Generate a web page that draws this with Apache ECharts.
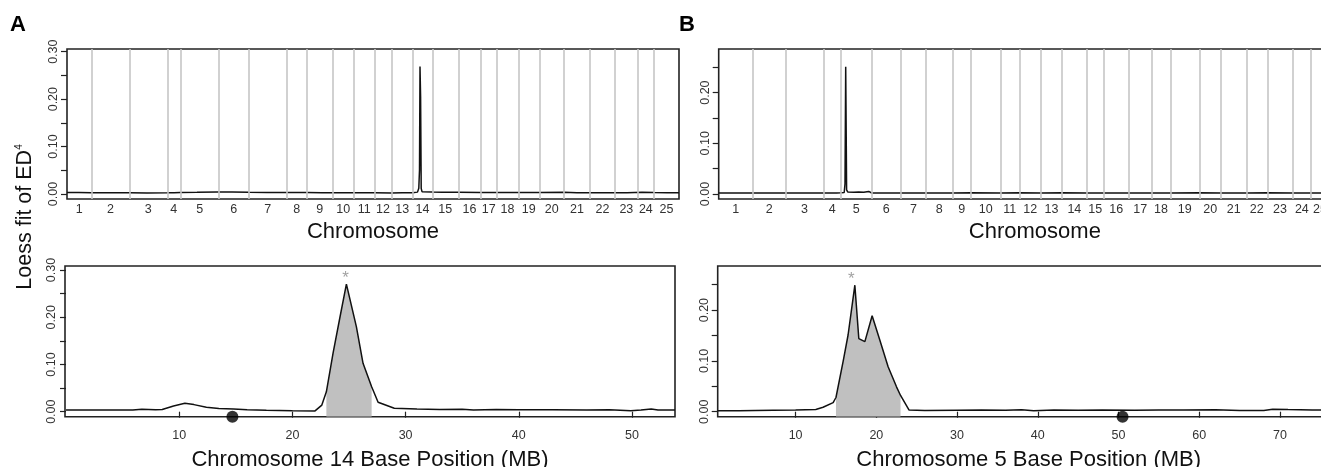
<!DOCTYPE html>
<html>
<head>
<meta charset="utf-8">
<script src="https://cdn.jsdelivr.net/npm/echarts@6/dist/echarts.min.js"></script>
<style>
html,body{margin:0;padding:0;background:#fff;}
#chart{width:1321px;height:467px;}
</style>
</head>
<body>
<div id="chart"></div>
<script>
// ---------------- DATA ----------------
const chromosomes = ['1','2','3','4','5','6','7','8','9','10','11','12','13','14','15','16','17','18','19','20','21','22','23','24','25'];
// relative span (marker-index units) of each chromosome on the genome-wide axis
const chrSpanA = [24.7,37.6,38,13,38.7,29.7,38,20.3,25.3,21.7,20.3,17.4,21,19.6,26,22.4,16,21.6,21,24.7,26,25,22.7,16.3,25];
const chrSpanB = [34,33,37.6,17.7,30.7,29.3,25,26.3,18.7,29.3,19,21.7,21,24.7,17,25,23,18.6,29,21.7,25.3,21,25.4,18.3,18];

// genome-wide loess fit of ED^4, [position, value]
const genomeA = [[0,0.003],[12,0.003],[24.7,0.0028],[45,0.0025],[62.3,0.0026],[80,0.0024],[100.3,0.0025],[107,0.0028],[113.3,0.003],[130,0.0035],[150,0.0045],[165,0.0042],[181.7,0.0035],[200,0.0032],[219.7,0.0033],[240,0.0032],[255,0.0028],[265.3,0.0028],[287,0.0025],[307.3,0.0025],[324.7,0.0022],[335,0.0025],[345.7,0.0028],[350.5,0.004],[351.8,0.012],[352.5,0.05],[353.0,0.269],[353.6,0.205],[354.2,0.012],[355,0.005],[365.3,0.004],[375,0.0035],[391.3,0.0035],[413.7,0.0032],[429.7,0.003],[451.3,0.003],[472.3,0.003],[497,0.0035],[510,0.0028],[523,0.0028],[548,0.0025],[560,0.0028],[575,0.0035],[587,0.003],[600,0.0028],[612,0.0028]];
const genomeB = [[0,0.002],[34,0.002],[67,0.0018],[104.6,0.002],[118,0.002],[122.3,0.0022],[125.5,0.003],[126.3,0.02],[127,0.251],[127.5,0.12],[127.9,0.008],[129,0.004],[135,0.0035],[140,0.004],[145,0.0032],[150,0.005],[151.5,0.004],[153,0.002],[182.3,0.002],[207.3,0.0018],[233.6,0.002],[252.3,0.0022],[281.6,0.002],[300.6,0.0022],[322.3,0.002],[343.3,0.0022],[368,0.002],[385,0.0018],[410,0.002],[433,0.002],[451.6,0.002],[480.6,0.0022],[502.3,0.002],[527.6,0.002],[548.6,0.0022],[574,0.002],[592.3,0.002],[610.3,0.002]];

// chromosome-level loess fit, [MB, value]
const chr14 = [[0,0.0036],[2,0.0034],[4,0.0036],[5.9,0.0035],[6.7,0.005],[7.9,0.004],[8.5,0.0045],[9.5,0.012],[10.5,0.0178],[11.3,0.015],[12.4,0.0093],[13.5,0.007],[14.8,0.0058],[16,0.004],[17.7,0.003],[20,0.002],[22,0.0016],[22.6,0.014],[23,0.042],[23.6,0.125],[24.2,0.2],[24.77,0.27],[25.65,0.18],[26.24,0.1025],[27,0.053],[27.57,0.02],[29,0.0072],[31,0.0055],[33,0.0045],[35,0.005],[36,0.0035],[38,0.0045],[40,0.004],[43,0.0042],[46,0.0038],[48,0.0042],[49.9,0.002],[50.8,0.0035],[51.7,0.0055],[52.3,0.0038],[53.8,0.0036]];
const chr5 = [[0.35,0.002],[3,0.002],[5,0.0025],[7.2,0.003],[10,0.0035],[12.5,0.0045],[13.4,0.0087],[14.65,0.018],[15,0.028],[15.9,0.1],[16.5,0.151],[17.34,0.249],[17.83,0.144],[18.58,0.138],[19.48,0.189],[20.43,0.141],[21.46,0.0886],[22.5,0.049],[23,0.032],[24.06,0.0033],[26,0.0025],[30,0.003],[33,0.0035],[36,0.003],[38,0.0038],[39.5,0.002],[42,0.0035],[45,0.003],[48,0.0035],[52,0.003],[55,0.0035],[58,0.0032],[62,0.004],[65,0.0025],[68,0.0025],[69.1,0.005],[71,0.0042],[74,0.0035],[77.4,0.0035]];

const shadeA = [23, 27];      // highlighted interval (MB)
const shadeB = [15, 23];
const starA = [24.7, 0.27];   // asterisk above peak
const starB = [16.9, 0.249];
const dotA = 14.7;            // black marker on axis (MB)
const dotB = 50.5;

const yTicks30 = [0,0.05,0.10,0.15,0.20,0.25,0.30];
const yLabels30 = [0,0.10,0.20,0.30];
const yTicks25 = [0,0.05,0.10,0.15,0.20,0.25];
const yLabels25 = [0,0.10,0.20];
const xTicks14 = [10,20,30,40,50];
const xTicks5 = [10,20,30,40,50,60,70];

// ---------------- BUILD ----------------
const FONT = '"Liberation Sans", Arial, Helvetica, sans-serif';
function cum(spans){ const b=[0]; spans.forEach(s=>b.push(+(b[b.length-1]+s).toFixed(3))); return b; }
const bndA = cum(chrSpanA), bndB = cum(chrSpanB);
const midA = chrSpanA.map((s,i)=>bndA[i]+s/2), midB = chrSpanB.map((s,i)=>bndB[i]+s/2);
function chrFmt(b){ return v => { for (let i=0;i<chromosomes.length;i++){ if (v>=b[i] && v<b[i+1]) return chromosomes[i]; } return ''; }; }

const Y = { A0:[-0.0105,0.3057], B0:[-0.0099,0.286], A1:[-0.0106,0.3085], B1:[-0.0098,0.2868] };

function yAx(gi, rng, ticks, labels){
  return { type:'value', gridIndex:gi, min:rng[0], max:rng[1],
    axisLine:{show:false}, splitLine:{show:false},
    axisTick:{show:true, length:6, customValues:ticks, lineStyle:{color:'#222', width:1.2}},
    axisLabel:{customValues:labels, rotate:90, margin:7, formatter:v=>v.toFixed(2), fontSize:12.5, color:'#333', fontFamily:FONT} };
}
function xGenome(gi, b, mids, pad){
  return { type:'value', gridIndex:gi, min:0, max:b[b.length-1],
    axisLine:{show:false}, splitLine:{show:false}, axisTick:{show:false},
    axisLabel:{customValues:mids, formatter:chrFmt(b), margin:4, fontSize:12.5, color:'#333', fontFamily:FONT},
    name:'Chromosome', nameLocation:'middle', nameGap:22,
    nameTextStyle:{fontSize:22, color:'#111', fontFamily:FONT, padding:[0,0,0,pad]} };
}
function xChr(gi, min, max, ticks, name){
  return { type:'value', gridIndex:gi, min:min, max:max,
    axisLine:{show:false}, splitLine:{show:false},
    axisTick:{show:true, length:6, customValues:ticks, lineStyle:{color:'#222', width:1.2}},
    axisLabel:{customValues:ticks, margin:12, fontSize:12.5, color:'#333', fontFamily:FONT},
    name:name, nameLocation:'middle', nameGap:32,
    nameTextStyle:{fontSize:22, color:'#111', fontFamily:FONT} };
}
const box = {show:true, borderColor:'#222', borderWidth:1.6, backgroundColor:'transparent', containLabel:false, outerBoundsMode:'none'};
function sepLines(b){
  return { silent:true, symbol:['none','none'], label:{show:false}, animation:false,
    lineStyle:{color:'#c6c6c6', type:'solid', width:1.6},
    data: b.slice(1,-1).map(v=>({xAxis:v})) };
}
function lineS(xi, data, extra){
  return Object.assign({ type:'line', xAxisIndex:xi, yAxisIndex:xi, data:data, showSymbol:false, symbol:'none',
    lineStyle:{color:'#111', width:1.5}, animation:false, z:3 }, extra||{});
}
function shadeS(xi, data, rng){
  return { type:'line', xAxisIndex:xi, yAxisIndex:xi, data:data.filter(p=>p[0]>=rng[0]&&p[0]<=rng[1]),
    showSymbol:false, symbol:'none', lineStyle:{width:0, opacity:0},
    areaStyle:{color:'#c0c0c0', opacity:1, origin:'start'}, animation:false, z:2 };
}
function starS(xi, p){
  return { type:'scatter', xAxisIndex:xi, yAxisIndex:xi, data:[p], symbolSize:1, itemStyle:{color:'rgba(0,0,0,0)'},
    label:{show:true, formatter:'*', position:'top', distance:-3, fontSize:17, color:'#8a8a8a', fontFamily:FONT},
    animation:false, silent:true, z:4 };
}
function dotS(xi, x, ymin){
  return { type:'scatter', xAxisIndex:xi, yAxisIndex:xi, data:[[x,ymin]], symbol:'circle', symbolSize:12,
    itemStyle:{color:'#000'}, clip:false, animation:false, silent:true, z:5 };
}

const option = {
  backgroundColor:'#fff',
  animation:false,
  grid:[
    Object.assign({left:67, top:49, width:612, height:150}, box),
    Object.assign({left:718.7, top:49, width:610.3, height:150}, box),
    Object.assign({left:65, top:266, width:610, height:150.7}, box),
    Object.assign({left:717.7, top:266, width:622, height:150.7}, box)
  ],
  xAxis:[
    xGenome(0, bndA, midA, 0),
    xGenome(1, bndB, midB, 22),
    xChr(2, -0.09, 53.8, xTicks14, 'Chromosome 14 Base Position (MB)'),
    xChr(3, 0.35, 77.4, xTicks5, 'Chromosome 5 Base Position (MB)')
  ],
  yAxis:[
    yAx(0, Y.A0, yTicks30, yLabels30),
    yAx(1, Y.B0, yTicks25, yLabels25),
    yAx(2, Y.A1, yTicks30, yLabels30),
    yAx(3, Y.B1, yTicks25, yLabels25)
  ],
  series:[
    lineS(0, genomeA, {markLine:sepLines(bndA)}),
    lineS(1, genomeB, {markLine:sepLines(bndB)}),
    shadeS(2, chr14, shadeA),
    lineS(2, chr14),
    starS(2, starA),
    dotS(2, dotA, Y.A1[0]),
    shadeS(3, chr5, shadeB),
    lineS(3, chr5),
    starS(3, starB),
    dotS(3, dotB, Y.B1[0])
  ],
  graphic:[
    {type:'text', left:10, top:14, style:{text:'A', fontSize:22, fontWeight:'bold', fill:'#000', fontFamily:FONT}},
    {type:'text', left:679, top:14, style:{text:'B', fontSize:22, fontWeight:'bold', fill:'#000', fontFamily:FONT}},
    {type:'text', x:25.5, y:217, rotation:Math.PI/2,
      style:{text:'{a|Loess fit of ED}{s|4}', align:'center', verticalAlign:'middle', fill:'#111',
        rich:{ a:{fontSize:21.5, fontFamily:FONT, fill:'#111'}, s:{fontSize:10, fontFamily:FONT, fill:'#111', verticalAlign:'top', padding:[0,0,10,0]} } }}
  ]
};
const chart = echarts.init(document.getElementById('chart'), null, {renderer:'canvas'});
chart.setOption(option);
</script>
</body>
</html>
